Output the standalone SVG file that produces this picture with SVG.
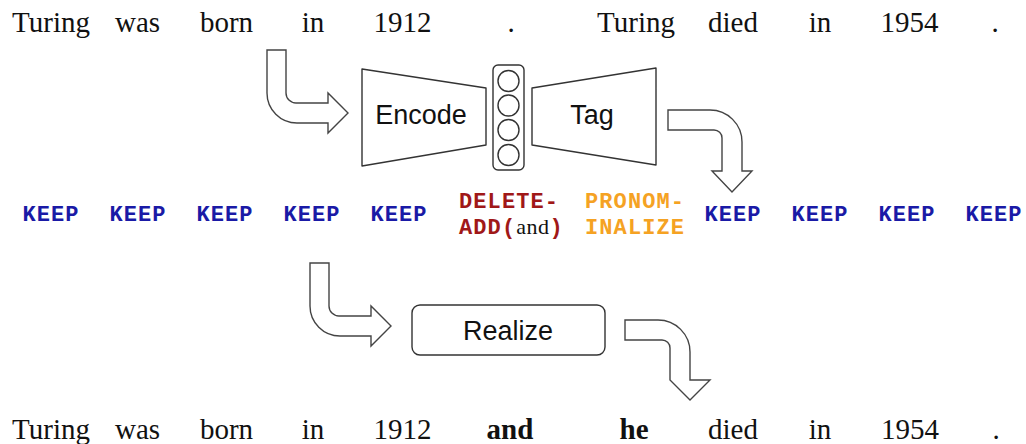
<svg xmlns="http://www.w3.org/2000/svg" width="1026" height="444" viewBox="0 0 1026 444">
  <style>
    .word { font-family: "Liberation Serif", "Times New Roman", serif; font-size: 29px; fill: #111; text-anchor: middle; }
    .bold { font-weight: bold; }
    .tag { font-family: "Liberation Mono", "Courier New", monospace; font-size: 22px; letter-spacing: 1.1px; font-weight: bold; }
    .keep { fill: #1a1aa6; text-anchor: middle; }
    .del { fill: #a01818; }
    .pro { fill: #f5a223; }
    .and { font-family: "Liberation Serif", "Times New Roman", serif; font-weight: normal; fill: #111; font-size: 22px; letter-spacing: 0.5px; }
    .shape { fill: #fff; stroke: #333; stroke-width: 1.4; stroke-linejoin: round; }
    .arrow { fill: #fff; stroke: #444; stroke-width: 1.4; stroke-linejoin: miter; }
    .label { font-family: "Liberation Sans", Arial, sans-serif; font-size: 27px; fill: #111; text-anchor: middle; }
  </style>

  <!-- input sentence -->
  <g id="input">
    <text class="word" x="51" y="32">Turing</text>
    <text class="word" x="137.5" y="32">was</text>
    <text class="word" x="226.5" y="32">born</text>
    <text class="word" x="313" y="32">in</text>
    <text class="word" x="402.5" y="32">1912</text>
    <text class="word" x="511" y="32">.</text>
    <text class="word" x="636" y="32">Turing</text>
    <text class="word" x="733" y="32">died</text>
    <text class="word" x="820" y="32">in</text>
    <text class="word" x="909.5" y="32">1954</text>
    <text class="word" x="995" y="32">.</text>
  </g>

  <!-- encoder -->
  <g id="encode">
    <polygon class="shape" points="362,69 486,88 486,145 362,166"/>
    <text class="label" x="421" y="124">Encode</text>
  </g>

  <!-- hidden state vector -->
  <g id="hidden">
    <rect class="shape" x="493" y="65" width="31" height="105" rx="5"/>
    <circle class="shape" cx="508.5" cy="81" r="10.5" stroke-width="2"/>
    <circle class="shape" cx="508.5" cy="105.5" r="10.5" stroke-width="2"/>
    <circle class="shape" cx="508.5" cy="130" r="10.5" stroke-width="2"/>
    <circle class="shape" cx="508.5" cy="155" r="10.5" stroke-width="2"/>
  </g>

  <!-- tagger -->
  <g id="tag">
    <polygon class="shape" points="532,88 656,68 656,165 532,145"/>
    <text class="label" x="592" y="124">Tag</text>
  </g>

  <!-- realizer -->
  <g id="realize">
    <rect class="shape" x="412" y="305" width="193" height="50" rx="8"/>
    <text class="label" x="508" y="340">Realize</text>
  </g>

  <!-- bent block arrows -->
  <g id="connectors">
    <path class="arrow" d="M267 50 H286 V93 A10 10 0 0 0 296 103 H328 V93 L348 113 L328 133 V123 H297 A30 30 0 0 1 267 93 Z"/>
    <path class="arrow" d="M267 50 H286 V93 A10 10 0 0 0 296 103 H328 V93 L348 113 L328 133 V123 H297 A30 30 0 0 1 267 93 Z" transform="translate(43,213)"/>
    <path class="arrow" d="M668 110 H710 A32 32 0 0 1 742 142 V171 H752 L732 192 L712 171 H722 V138 A8 8 0 0 0 714 130 H668 Z"/>
    <path class="arrow" d="M625 320 H658 A32 32 0 0 1 690 352 V380 H710 L690 400 L670 380 H670 V348 A8 8 0 0 0 662 340 H625 Z"/>
  </g>

  <!-- edit tags -->
  <g id="tags" class="tag">
    <text class="keep" x="51" y="221">KEEP</text>
    <text class="keep" x="138" y="221">KEEP</text>
    <text class="keep" x="225" y="221">KEEP</text>
    <text class="keep" x="312" y="221">KEEP</text>
    <text class="keep" x="399" y="221">KEEP</text>
    <text class="del" x="459" y="208">DELETE-</text>
    <text class="del" x="459" y="234">ADD(<tspan class="and">and</tspan>)</text>
    <text class="pro" x="585" y="208">PRONOM-</text>
    <text class="pro" x="585" y="234">INALIZE</text>
    <text class="keep" x="733" y="221">KEEP</text>
    <text class="keep" x="820" y="221">KEEP</text>
    <text class="keep" x="907" y="221">KEEP</text>
    <text class="keep" x="994" y="221">KEEP</text>
  </g>

  <!-- output sentence -->
  <g id="output">
    <text class="word" x="51" y="439">Turing</text>
    <text class="word" x="137.5" y="439">was</text>
    <text class="word" x="226.5" y="439">born</text>
    <text class="word" x="313" y="439">in</text>
    <text class="word" x="402.5" y="439">1912</text>
    <text class="word bold" x="510" y="439">and</text>
    <text class="word bold" x="634" y="439">he</text>
    <text class="word" x="733" y="439">died</text>
    <text class="word" x="820" y="439">in</text>
    <text class="word" x="910" y="439">1954</text>
    <text class="word" x="996" y="439">.</text>
  </g>
</svg>
